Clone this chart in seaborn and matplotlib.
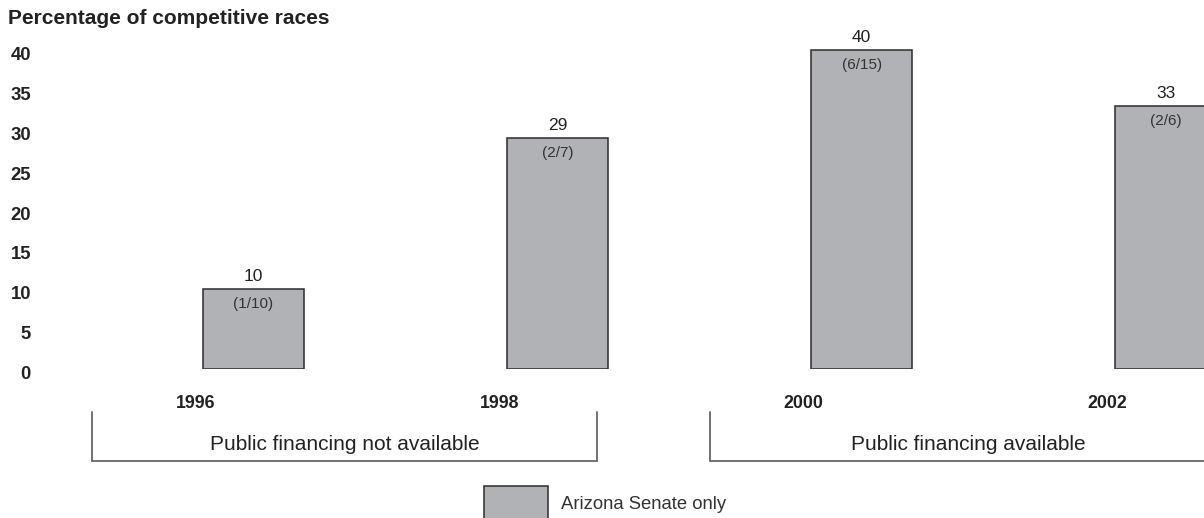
import matplotlib
matplotlib.use("Agg")
import matplotlib.pyplot as plt
import matplotlib.transforms as mtransforms
from matplotlib.patches import Patch
import pandas as pd
import seaborn as sns

# Share of Arizona Senate races that were competitive, by election year
years = ["1996", "1998", "2000", "2002"]
pct_competitive = [10, 29, 40, 33]
race_counts = ["(1/10)", "(2/7)", "(6/15)", "(2/6)"]
group_labels = ["Public financing not available", "Public financing available"]
y_ticks = [0, 5, 10, 15, 20, 25, 30, 35, 40]

BAR_FILL = "#b1b2b5"
BAR_EDGE = "#2b2b2b"
TEXT = "#222222"

sns.set_theme(style="white")
plt.rcParams["font.family"] = ["Liberation Sans", "DejaVu Sans"]

df = pd.DataFrame({"year": years, "pct": pct_competitive})

W, H = 1204, 518
fig = plt.figure(figsize=(W / 100, H / 100), dpi=100)
ax = fig.add_axes([40 / W, (H - 369) / H, (W - 40) / W, 369 / H])

sns.barplot(data=df, x="year", y="pct", order=years, color=BAR_FILL,
            saturation=1, edgecolor=BAR_EDGE, linewidth=1.1, width=0.332,
            errorbar=None, ax=ax)

ax.set_xlim(-0.702, 3.126)
ax.set_ylim(0, 46.3)
for s in ax.spines.values():
    s.set_visible(False)
ax.set_xlabel("")
ax.set_ylabel("")

# y axis: bold tick labels, nudged slightly down
ax.set_yticks(y_ticks)
ax.set_yticklabels([str(t) for t in y_ticks])
ax.tick_params(axis="y", length=0, pad=6.5, labelsize=13.3, labelcolor=TEXT)
ydown = mtransforms.ScaledTranslation(0, -0.035, fig.dpi_scale_trans)
for lab in ax.get_yticklabels():
    lab.set_fontweight("bold")
    lab.set_transform(lab.get_transform() + ydown)

# x axis: bold year labels set off to the left of each bar
ax.tick_params(axis="x", length=0, pad=19, labelsize=12.8, labelcolor=TEXT)
xshift = mtransforms.ScaledTranslation(-0.58, 0, fig.dpi_scale_trans)
for lab in ax.get_xticklabels():
    lab.set_fontweight("bold")
    lab.set_transform(lab.get_transform() + xshift)

# value above each bar, race count just inside the top
for i, (v, frac) in enumerate(zip(pct_competitive, race_counts)):
    ax.annotate(f"{v}", xy=(i, v), xytext=(0, 9.2), textcoords="offset points",
                ha="center", va="center", fontsize=12.5, color=TEXT,
                annotation_clip=False)
    ax.annotate(frac, xy=(i, v), xytext=(0, -10.8), textcoords="offset points",
                ha="center", va="center", fontsize=11, color="#333333",
                annotation_clip=False)

# brackets grouping the years by financing regime
bracket_spans = [(-0.53, 1.13), (1.50, 3.20)]
btrans = mtransforms.blended_transform_factory(ax.transData, fig.transFigure)
y_top, y_bot = (H - 412) / H, (H - 461) / H
for (x0, x1), label in zip(bracket_spans, group_labels):
    ax.plot([x0, x0, x1, x1], [y_top, y_bot, y_bot, y_top], transform=btrans,
            color="#666666", lw=1.3, clip_on=False, solid_joinstyle="miter")
    ax.text((x0 + x1) / 2, (H - 445) / H, label, transform=btrans,
            ha="center", va="center", fontsize=15, color=TEXT, clip_on=False)

# title
fig.text(8 / W, 1 - 24 / H, "Percentage of competitive races", ha="left",
         va="baseline", fontsize=15, fontweight="bold", color=TEXT)

# legend
handle = Patch(facecolor=BAR_FILL, edgecolor=BAR_EDGE, linewidth=1.1,
               label="Arizona Senate only")
fig.legend(handles=[handle], loc="center left",
           bbox_to_anchor=(484 / W, (H - 503) / H), bbox_transform=fig.transFigure,
           frameon=False, borderpad=0, borderaxespad=0, handlelength=3.46,
           handleheight=2.4, handletextpad=0.69, fontsize=13.3,
           labelcolor="#333333")

fig.savefig("out.png", dpi=100)
